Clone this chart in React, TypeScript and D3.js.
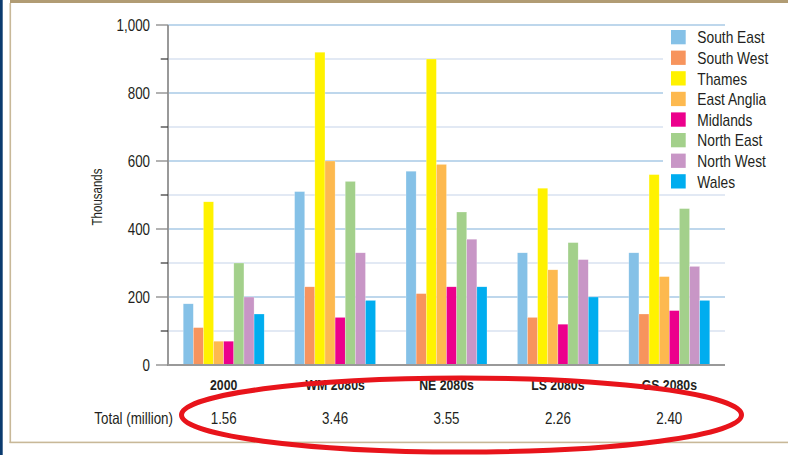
import React from "react";
import * as d3 from "d3";

const categories = ["2000", "WM 2080s", "NE 2080s", "LS 2080s", "GS 2080s"];
const regions = ["South East", "South West", "Thames", "East Anglia", "Midlands", "North East", "North West", "Wales"];
const colors = ["#85c1e7", "#f7945d", "#fff200", "#fdb94f", "#ec008c", "#a3d08b", "#c896c6", "#00adef"];
const southEast = [180, 510, 570, 330, 330];
const southWest = [110, 230, 210, 140, 150];
const thames = [480, 920, 900, 520, 560];
const eastAnglia = [70, 600, 590, 280, 260];
const midlands = [70, 140, 230, 120, 160];
const northEast = [300, 540, 450, 360, 460];
const northWest = [200, 330, 370, 310, 290];
const wales = [150, 190, 230, 200, 190];
const totals = ["1.56", "3.46", "3.55", "2.26", "2.40"];
const yTicks = [0, 200, 400, 600, 800, 1000];
const yMinorTicks = [100, 300, 500, 700, 900];

const series = [southEast, southWest, thames, eastAnglia, midlands, northEast, northWest, wales];

const W = 788;
const H = 455;
const FONT = "'Liberation Sans', Arial, sans-serif";
const TEXT = "#231f20";
const SX = 0.82;

type NTProps = {
  x: number;
  y: number;
  size: number;
  anchor?: "start" | "middle" | "end";
  weight?: string;
  rotate?: number;
  dy?: string;
  children: React.ReactNode;
};

function NText({ x, y, size, anchor = "start", weight = "normal", rotate = 0, dy, children }: NTProps) {
  return (
    <text
      transform={`translate(${x},${y}) rotate(${rotate}) scale(${SX},1)`}
      textAnchor={anchor}
      fontSize={size}
      fontWeight={weight}
      fill={TEXT}
      dy={dy}
    >
      {children}
    </text>
  );
}

export default function App() {
  const left = 168;
  const right = 725;
  const top = 25;
  const bottom = 365;

  const x = d3.scaleBand<string>().domain(categories).range([left, right]).paddingInner(0.273).paddingOuter(0.1365);
  const x1 = d3.scaleBand<string>().domain(regions).range([0, x.bandwidth()]).padding(0);
  const y = d3.scaleLinear().domain([0, 1000]).range([bottom, top]);

  const fmt = d3.format(",");

  const legendTop = 30;
  const legendStep = 20.6;

  const firstX = x(categories[0])!;
  const lastX = x(categories[categories.length - 1])! + x.bandwidth();
  const ellCx = (firstX + lastX) / 2 + 15;

  return (
    <svg width={W} height={H} style={{ position: "absolute", left: 0, top: 0, background: "#fff" }} fontFamily={FONT}>
      <rect x={0} y={0} width={W} height={H} fill="#fff" />
      {/* frame */}
      <rect x={0} y={0} width={2.7} height={H} fill="#0b3b6f" />
      <rect x={10} y={0} width={W - 10} height={3} fill="#b19c74" />
      <rect x={9.5} y={3} width={1.6} height={440} fill="#c8b898" />
      <rect x={9.5} y={441.6} width={W - 9.5} height={1.6} fill="#c8b898" />

      {/* gridlines */}
      {yMinorTicks.map((t) => (
        <line key={"m" + t} x1={left} x2={right} y1={y(t)} y2={y(t)} stroke="#c6d4ea" strokeWidth={1.2} />
      ))}
      {yTicks.filter((t) => t > 0).map((t) => (
        <line key={"g" + t} x1={left} x2={right} y1={y(t)} y2={y(t)} stroke="#7fb0d9" strokeWidth={1.2} />
      ))}

      {/* legend background */}
      <rect x={663} y={27} width={W - 663} height={166} fill="#fff" />

      {/* bars */}
      {categories.map((c, ci) => (
        <g key={c} transform={`translate(${x(c)},0)`}>
          {regions.map((r, ri) => {
            const v = series[ri][ci];
            return (
              <rect
                key={r}
                x={x1(r)}
                y={y(v)}
                width={x1.bandwidth()}
                height={y(0) - y(v)}
                fill={colors[ri]}
                stroke="#ffffff"
                strokeOpacity={0.5}
                strokeWidth={0.5}
              />
            );
          })}
        </g>
      ))}

      {/* axes */}
      <line x1={left} x2={right} y1={bottom} y2={bottom} stroke="#999" strokeWidth={2} />
      <line x1={left} x2={left} y1={top} y2={bottom + 1} stroke="#999" strokeWidth={2} />
      {yTicks.map((t) => (
        <g key={"t" + t}>
          <line x1={156} x2={left} y1={y(t)} y2={y(t)} stroke="#888" strokeWidth={1.3} />
          <NText x={150} y={y(t)} dy="0.36em" anchor="end" size={16.3}>
            {fmt(t)}
          </NText>
        </g>
      ))}
      {yMinorTicks.map((t) => (
        <line key={"mt" + t} x1={160.7} x2={left} y1={y(t)} y2={y(t)} stroke="#333" strokeWidth={1.2} />
      ))}
      <NText x={102} y={197} rotate={-90} anchor="middle" size={14}>
        Thousands
      </NText>

      {/* category labels */}
      {categories.map((c) => (
        <NText key={"c" + c} x={x(c)! + x.bandwidth() / 2} y={390} anchor="middle" size={15} weight="bold">
          {c}
        </NText>
      ))}
      <NText x={173} y={424} anchor="end" size={16.3}>
        Total (million)
      </NText>
      {categories.map((c, i) => (
        <NText key={"tot" + c} x={x(c)! + x.bandwidth() / 2} y={424} anchor="middle" size={16.3}>
          {totals[i]}
        </NText>
      ))}

      {/* legend */}
      {regions.map((r, i) => (
        <g key={"l" + r} transform={`translate(671,${legendTop + i * legendStep})`}>
          <rect x={0} y={0} width={14.7} height={14.3} fill={colors[i]} />
          <NText x={26.3} y={13.3} size={16.8}>
            {r}
          </NText>
        </g>
      ))}

      {/* annotation ellipse */}
      <ellipse cx={ellCx} cy={415} rx={280} ry={37} fill="none" stroke="#e8141b" strokeWidth={5} />
    </svg>
  );
}
